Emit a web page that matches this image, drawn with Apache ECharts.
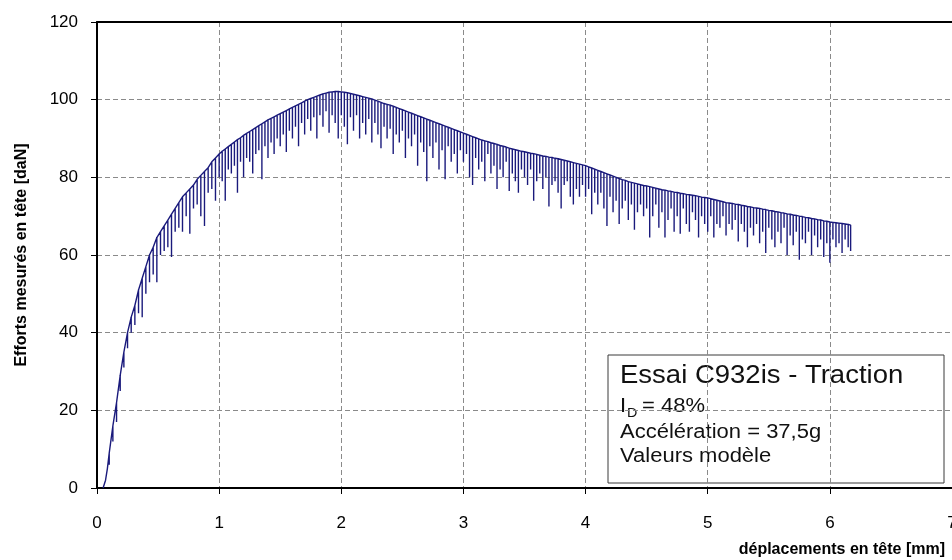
<!DOCTYPE html>
<html>
<head>
<meta charset="utf-8">
<script src="https://cdn.jsdelivr.net/npm/echarts@6/dist/echarts.min.js"></script>
<style>
  html, body { margin: 0; padding: 0; background: #fff; }
  #chart { width: 952px; height: 560px; }
</style>
</head>
<body>
<div id="chart"></div>
<script>
// x ticks / y ticks
var xTicks = [0, 1, 2, 3, 4, 5, 6, 7];
var yTicks = [0, 20, 40, 60, 80, 100, 120];

// start of the trace, before the first load drop
var leadX = [0.05, 0.07, 0.085];
var leadY = [0, 2, 5];

// each drop: displacement [mm], force before the drop, force at the bottom [daN]
var spikeX = [
    0.10, 0.13, 0.16, 0.19, 0.22, 0.25, 0.28, 0.31, 0.34, 0.37, 0.40, 0.43, 0.46, 0.49, 0.52,
    0.55, 0.58, 0.61, 0.64, 0.67, 0.70, 0.73, 0.76, 0.79, 0.82, 0.85, 0.88, 0.91, 0.94, 0.97,
    1.000, 1.025, 1.050, 1.075, 1.100, 1.125, 1.150, 1.175, 1.200, 1.225,
    1.250, 1.275, 1.300, 1.325, 1.350, 1.375, 1.400, 1.425, 1.450, 1.475,
    1.500, 1.525, 1.550, 1.575, 1.600, 1.625, 1.650, 1.675, 1.700, 1.725,
    1.750, 1.775, 1.800, 1.825, 1.850, 1.875, 1.900, 1.925, 1.950, 1.975,
    2.000, 2.025, 2.050, 2.075, 2.100, 2.125, 2.150, 2.175, 2.200, 2.225,
    2.250, 2.275, 2.300, 2.325, 2.350, 2.375, 2.400, 2.425, 2.450, 2.475,
    2.500, 2.525, 2.550, 2.575, 2.600, 2.625, 2.650, 2.675, 2.700, 2.725,
    2.750, 2.775, 2.800, 2.825, 2.850, 2.875, 2.900, 2.925, 2.950, 2.975,
    3.000, 3.025, 3.050, 3.075, 3.100, 3.125, 3.150, 3.175, 3.200, 3.225,
    3.250, 3.275, 3.300, 3.325, 3.350, 3.375, 3.400, 3.425, 3.450, 3.475,
    3.500, 3.525, 3.550, 3.575, 3.600, 3.625, 3.650, 3.675, 3.700, 3.725,
    3.750, 3.775, 3.800, 3.825, 3.850, 3.875, 3.900, 3.925, 3.950, 3.975,
    4.000, 4.025, 4.050, 4.075, 4.100, 4.125, 4.150, 4.175, 4.200, 4.225,
    4.250, 4.275, 4.300, 4.325, 4.350, 4.375, 4.400, 4.425, 4.450, 4.475,
    4.500, 4.525, 4.550, 4.575, 4.600, 4.625, 4.650, 4.675, 4.700, 4.725,
    4.750, 4.775, 4.800, 4.825, 4.850, 4.875, 4.900, 4.925, 4.950, 4.975,
    5.000, 5.025, 5.050, 5.075, 5.100, 5.125, 5.150, 5.175, 5.200, 5.225,
    5.250, 5.275, 5.300, 5.325, 5.350, 5.375, 5.400, 5.425, 5.450, 5.475,
    5.500, 5.525, 5.550, 5.575, 5.600, 5.625, 5.650, 5.675, 5.700, 5.725,
    5.750, 5.775, 5.800, 5.825, 5.850, 5.875, 5.900, 5.925, 5.950, 5.975,
    6.000, 6.025, 6.050, 6.075, 6.100, 6.125, 6.150, 6.170
];
var spikeTop = [
    9, 16, 22, 29, 35, 40, 44, 47, 51, 54, 57, 60, 62, 64.5, 66,
    67.5, 69, 70.5, 72, 73.5, 75, 76, 77, 78, 79.5, 80.5, 81.5, 82.5, 84, 85,
    86, 86.7, 87.3, 87.9, 88.5, 89.1, 89.7, 90.2, 90.8, 91.3,
    91.8, 92.3, 92.8, 93.3, 93.8, 94.3, 94.8, 95.2, 95.6, 96,
    96.4, 96.8, 97.2, 97.6, 98, 98.4, 98.8, 99.2, 99.6, 100,
    100.3, 100.6, 100.9, 101.2, 101.5, 101.7, 101.9, 102, 102.1, 102.1,
    102, 101.9, 101.8, 101.6, 101.4, 101.2, 101, 100.8, 100.6, 100.4,
    100.2, 99.9, 99.6, 99.3, 99, 98.8, 98.6, 98.3, 98, 97.7,
    97.4, 97.1, 96.8, 96.5, 96.2, 95.9, 95.6, 95.3, 95, 94.7,
    94.4, 94.1, 93.8, 93.5, 93.2, 92.9, 92.6, 92.3, 92, 91.7,
    91.4, 91.1, 90.8, 90.5, 90.2, 89.9, 89.6, 89.4, 89.2, 88.9,
    88.7, 88.5, 88.2, 88, 87.8, 87.5, 87.3, 87.1, 86.9, 86.7,
    86.6, 86.4, 86.2, 86.1, 85.9, 85.7, 85.5, 85.4, 85.2, 85.1,
    84.9, 84.8, 84.6, 84.4, 84.2, 84, 83.8, 83.6, 83.4, 83.2,
    83, 82.7, 82.4, 82.1, 81.8, 81.5, 81.2, 80.9, 80.6, 80.3,
    80, 79.7, 79.4, 79.2, 78.9, 78.7, 78.5, 78.3, 78.1, 77.9,
    77.8, 77.6, 77.4, 77.2, 77, 76.8, 76.7, 76.5, 76.4, 76.2,
    76.1, 75.9, 75.8, 75.6, 75.5, 75.4, 75.3, 75.1, 74.9, 74.8,
    74.7, 74.5, 74.3, 74.1, 73.9, 73.7, 73.5, 73.4, 73.3, 73.1,
    73, 72.8, 72.7, 72.5, 72.4, 72.2, 72.1, 72, 71.8, 71.7,
    71.5, 71.4, 71.2, 71.1, 70.9, 70.8, 70.6, 70.5, 70.3, 70.2,
    70, 69.9, 69.7, 69.6, 69.4, 69.3, 69.1, 69, 68.8, 68.7,
    68.5, 68.4, 68.3, 68.2, 68.1, 68, 67.9, 67.7
];
var spikeLow = [
    6, 12, 17, 25, 31, 36, 40, 42, 45, 44, 50, 53, 55, 53, 60,
    61, 62, 59.5, 66, 67, 66, 70, 65.5, 72, 73, 70, 67.5, 76, 77, 74,
    80, 79, 74, 82, 81, 83, 76, 84, 80, 85,
    84, 81, 86, 87, 79.5, 88, 85, 89, 86, 90,
    88, 91, 86.5, 92, 90, 93, 88, 94, 91, 95,
    92, 95.5, 90, 96, 93, 97, 91.5, 96, 94, 90,
    96, 93, 88.5, 95.5, 92, 96, 90, 94, 91, 95,
    89, 94, 91, 87.5, 93, 90, 92.5, 86, 91, 89,
    92, 85, 90, 88, 91, 83, 89, 86.5, 79, 88,
    85, 89, 82, 87, 79.5, 88, 84, 86, 81, 87,
    84, 86, 80, 78, 85, 82, 84, 79, 86, 81,
    83, 77, 82, 80, 84, 76.5, 81, 79, 76, 82,
    80, 78, 82, 74, 79, 81, 77, 80, 72.5, 78,
    79, 76, 72, 78, 79, 75, 73, 77, 75, 78,
    75, 77, 70.5, 76, 73, 76, 72, 67.5, 75, 71,
    74, 68, 72, 74, 69, 73, 66.5, 71, 73, 70,
    72, 64.5, 70, 73, 67, 71, 64.5, 69, 72, 66,
    70, 65.5, 72, 68, 66, 71, 69, 64.5, 70, 68,
    66, 70, 64.5, 68, 67, 70, 65, 68, 66.5, 69,
    63.5, 68, 66, 62, 67, 65, 68, 63, 66, 60.5,
    67, 64, 62, 66, 63, 67, 60, 65, 62.5, 66,
    58.8, 64, 63, 66, 60, 65, 62, 64, 59.5, 63,
    58, 64, 62, 63, 60.5, 64, 62, 61
];

var trace = leadX.map(function (x, i) { return [x, leadY[i]]; });
spikeX.forEach(function (x, i) {
    trace.push([x, spikeTop[i]], [x, spikeLow[i]]);
    if (i < spikeX.length - 1) trace.push([x, spikeTop[i]]);
});

var font = "'Liberation Sans', Arial, sans-serif";

option = {
    animation: false,
    backgroundColor: '#fff',
    grid: { left: 97, top: 22, right: 0, bottom: 72, outerBoundsMode: 'none' },
    xAxis: [{
        type: 'value',
        min: xTicks[0], max: xTicks[xTicks.length - 1], interval: 1,
        axisLine: { lineStyle: { color: '#000', width: 2 } },
        axisTick: { length: 6, lineStyle: { color: '#000', width: 1 } },
        axisLabel: { color: '#000', fontSize: 17, fontFamily: font, margin: 27, showMaxLabel: true },
        splitLine: { show: true, lineStyle: { color: '#8a8a8a', type: [5, 3], width: 1 } }
    }, {
        type: 'value', position: 'top',
        min: xTicks[0], max: xTicks[xTicks.length - 1],
        axisLine: { show: true, lineStyle: { color: '#000', width: 2 } },
        axisTick: { show: false }, axisLabel: { show: false }, splitLine: { show: false }
    }],
    yAxis: {
        type: 'value',
        min: yTicks[0], max: yTicks[yTicks.length - 1], interval: 20,
        name: 'Efforts mesurés en tête [daN]',
        nameLocation: 'middle', nameGap: 67,
        nameTextStyle: { color: '#000', fontSize: 16, fontWeight: 'bold', fontFamily: font },
        axisLine: { show: true, lineStyle: { color: '#000', width: 2 } },
        axisTick: { show: true, length: 6, lineStyle: { color: '#000', width: 1 } },
        axisLabel: { color: '#000', fontSize: 17, fontFamily: font, margin: 19 },
        splitLine: { show: true, lineStyle: { color: '#8a8a8a', type: [5, 3], width: 1 } }
    },
    series: [{
        type: 'line',
        data: trace,
        showSymbol: false,
        smooth: false,
        lineStyle: { color: '#1a1a7c', width: 1.4 }
    }],
    graphic: [
        {
            type: 'text', right: 7, top: 542, z: 10,
            style: { text: 'déplacements en tête [mm]', font: 'bold 16px ' + font, fill: '#000' }
        },
        {
            type: 'group', z: 20,
            children: [
                { type: 'rect', shape: { x: 608, y: 355, width: 336, height: 128 },
                  style: { fill: '#fff', stroke: '#3a3a3a', lineWidth: 1 } },
                { type: 'text', x: 620, y: 376, scaleX: 1.1,
                  style: { text: 'Essai C932is - Traction', font: '25px ' + font, fill: '#111', verticalAlign: 'middle' } },
                { type: 'text', x: 620, y: 406, scaleX: 1.1,
                  style: { text: 'I', font: '20px ' + font, fill: '#111', verticalAlign: 'middle' } },
                { type: 'text', x: 627, y: 413, scaleX: 1.1,
                  style: { text: 'D', font: '13px ' + font, fill: '#111', verticalAlign: 'middle' } },
                { type: 'text', x: 642, y: 406, scaleX: 1.1,
                  style: { text: '= 48%', font: '20px ' + font, fill: '#111', verticalAlign: 'middle' } },
                { type: 'text', x: 620, y: 432, scaleX: 1.1,
                  style: { text: 'Accélération = 37,5g', font: '20px ' + font, fill: '#111', verticalAlign: 'middle' } },
                { type: 'text', x: 620, y: 456, scaleX: 1.1,
                  style: { text: 'Valeurs modèle', font: '20px ' + font, fill: '#111', verticalAlign: 'middle' } }
            ]
        }
    ]
};

var chart = echarts.init(document.getElementById('chart'));
chart.setOption(option, true);
</script>
</body>
</html>
